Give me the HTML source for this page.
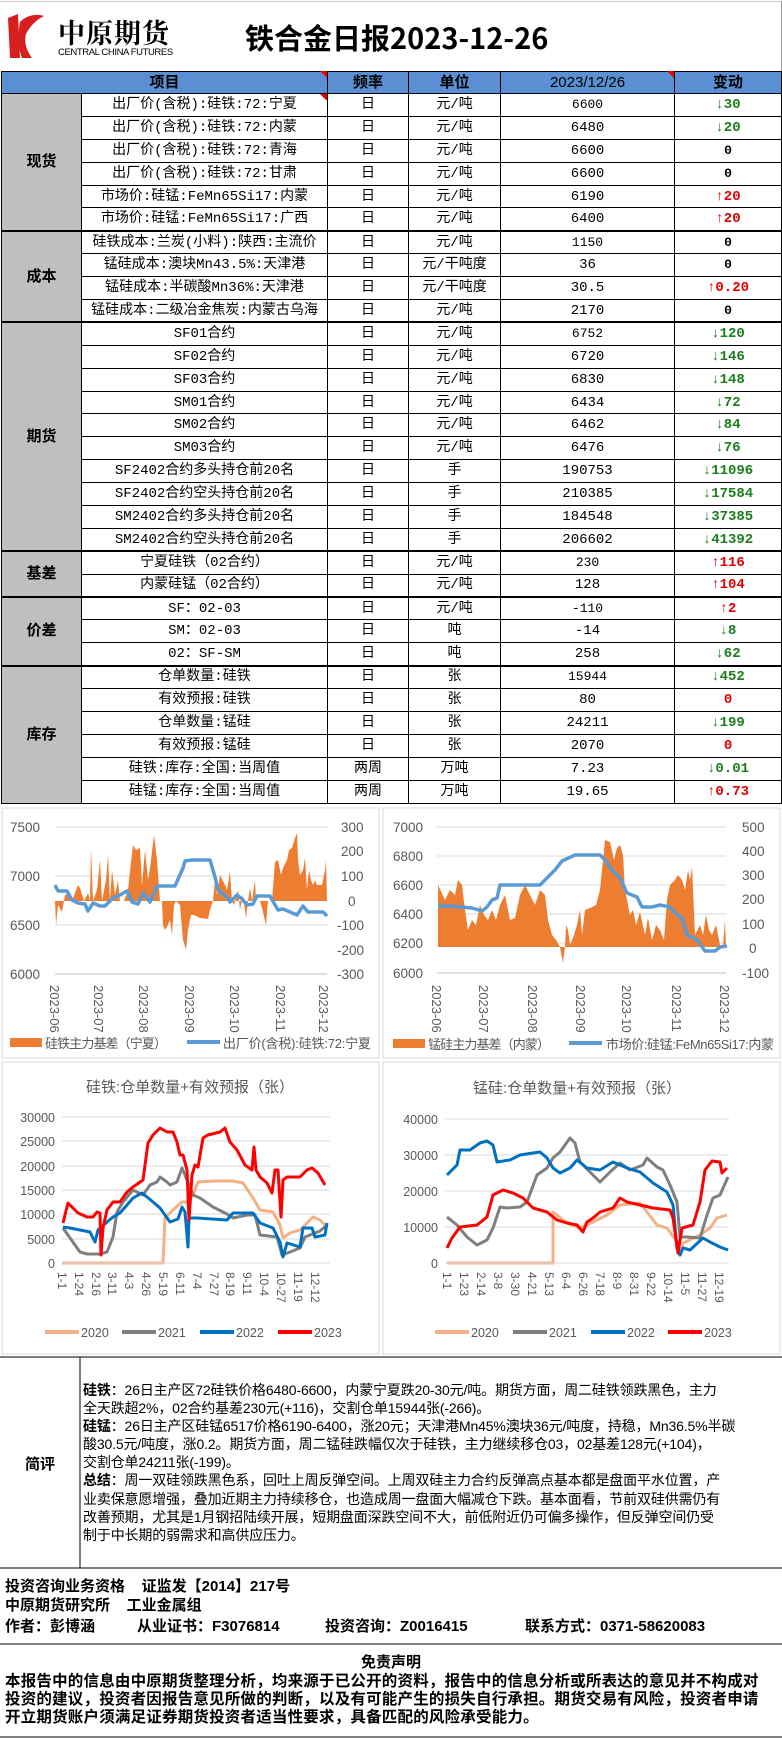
<!DOCTYPE html>
<html><head><meta charset="utf-8">
<style>
*{margin:0;padding:0;box-sizing:border-box}
body{width:782px;height:1738px;position:relative;background:#fff;font-family:"Liberation Sans","Noto Sans CJK SC",sans-serif;overflow:hidden;color:#000}
.abs{position:absolute}
table{border-collapse:collapse;table-layout:fixed;position:absolute;left:1px;top:71px;width:780px}
td{border:1px solid #000;text-align:center;font-size:14px;height:22.9px;padding:0;white-space:nowrap;overflow:hidden;line-height:20px;font-family:"Liberation Mono","Noto Sans CJK SC",monospace}
td:nth-child(5),td:nth-child(6){font-size:13px}
tr td.it{font-size:14px;letter-spacing:0}
tr.h td{background:#5a8fd3;height:22px;font-weight:bold;font-size:15px;font-family:"Liberation Sans","Noto Sans CJK SC",sans-serif}
td.cat{background:#bfbfbf;font-weight:bold;font-size:15px;font-family:"Liberation Sans","Noto Sans CJK SC",sans-serif}
.g{color:#1b7d1b;font-weight:bold;font-size:14px !important}
.r{color:#e00000;font-weight:bold;font-size:14px !important}
.z{font-weight:bold}
.sec td{border-top:2px solid #000}
.cm{font-size:14px;line-height:18.1px;white-space:nowrap;letter-spacing:-0.15px}
.b{font-weight:bold}
</style></head><body>
<div class="abs" style="left:0;top:1px;width:782px;height:70px;border-top:1px solid #ccc;border-right:1px solid #999"></div>
<svg class="abs" style="left:6px;top:12px" width="40" height="48" viewBox="0 0 40 48">
<path d="M2 6 L12 2 L14 46 L4 46 Z" fill="#d6201f"/>
<path d="M14 10 C22 2 32 2 38 4 C30 8 24 14 20 22 C18 30 20 38 26 46 L16 46 C12 36 12 20 14 10Z" fill="#d6201f"/>
</svg>
<div class="abs" style="left:58px;top:12px;font-size:27px;font-weight:bold;font-family:'Noto Serif CJK SC','Noto Sans CJK SC',serif;letter-spacing:1px">中原期货</div>
<div class="abs" style="left:58px;top:47px;font-size:9.5px;letter-spacing:-0.4px">CENTRAL CHINA FUTURES</div>
<div class="abs" style="left:245px;top:16px;font-size:29px;font-weight:bold;font-family:'Noto Sans CJK SC','Liberation Sans',sans-serif">铁合金日报2023-12-26</div>

<table>
<colgroup><col style="width:80px"><col style="width:246px"><col style="width:81px"><col style="width:92px"><col style="width:174px"><col style="width:107px"></colgroup>
<tr class="h"><td colspan="2">项目</td><td>频率</td><td>单位</td><td style="font-weight:normal">2023/12/26</td><td>变动</td></tr>
<tr><td class="cat" rowspan="6">现货</td><td class="it">出厂价(含税):硅铁:72:宁夏</td><td>日</td><td>元/吨</td><td>6600</td><td class="g">↓30</td></tr>
<tr><td class="it">出厂价(含税):硅铁:72:内蒙</td><td>日</td><td>元/吨</td><td>6480</td><td class="g">↓20</td></tr>
<tr><td class="it">出厂价(含税):硅铁:72:青海</td><td>日</td><td>元/吨</td><td>6600</td><td class="z">0</td></tr>
<tr><td class="it">出厂价(含税):硅铁:72:甘肃</td><td>日</td><td>元/吨</td><td>6600</td><td class="z">0</td></tr>
<tr><td class="it">市场价:硅锰:FeMn65Si17:内蒙</td><td>日</td><td>元/吨</td><td>6190</td><td class="r">↑20</td></tr>
<tr><td class="it">市场价:硅锰:FeMn65Si17:广西</td><td>日</td><td>元/吨</td><td>6400</td><td class="r">↑20</td></tr>
<tr class="sec"><td class="cat" rowspan="4">成本</td><td class="it">硅铁成本:兰炭(小料):陕西:主流价</td><td>日</td><td>元/吨</td><td>1150</td><td class="z">0</td></tr>
<tr><td class="it">锰硅成本:澳块Mn43.5%:天津港</td><td>日</td><td>元/干吨度</td><td>36</td><td class="z">0</td></tr>
<tr><td class="it">锰硅成本:半碳酸Mn36%:天津港</td><td>日</td><td>元/干吨度</td><td>30.5</td><td class="r">↑0.20</td></tr>
<tr><td class="it">锰硅成本:二级冶金焦炭:内蒙古乌海</td><td>日</td><td>元/吨</td><td>2170</td><td class="z">0</td></tr>
<tr class="sec"><td class="cat" rowspan="10">期货</td><td class="it">SF01合约</td><td>日</td><td>元/吨</td><td>6752</td><td class="g">↓120</td></tr>
<tr><td class="it">SF02合约</td><td>日</td><td>元/吨</td><td>6720</td><td class="g">↓146</td></tr>
<tr><td class="it">SF03合约</td><td>日</td><td>元/吨</td><td>6830</td><td class="g">↓148</td></tr>
<tr><td class="it">SM01合约</td><td>日</td><td>元/吨</td><td>6434</td><td class="g">↓72</td></tr>
<tr><td class="it">SM02合约</td><td>日</td><td>元/吨</td><td>6462</td><td class="g">↓84</td></tr>
<tr><td class="it">SM03合约</td><td>日</td><td>元/吨</td><td>6476</td><td class="g">↓76</td></tr>
<tr><td class="it">SF2402合约多头持仓前20名</td><td>日</td><td>手</td><td>190753</td><td class="g">↓11096</td></tr>
<tr><td class="it">SF2402合约空头持仓前20名</td><td>日</td><td>手</td><td>210385</td><td class="g">↓17584</td></tr>
<tr><td class="it">SM2402合约多头持仓前20名</td><td>日</td><td>手</td><td>184548</td><td class="g">↓37385</td></tr>
<tr><td class="it">SM2402合约空头持仓前20名</td><td>日</td><td>手</td><td>206602</td><td class="g">↓41392</td></tr>
<tr class="sec"><td class="cat" rowspan="2">基差</td><td class="it">宁夏硅铁（02合约）</td><td>日</td><td>元/吨</td><td>230</td><td class="r">↑116</td></tr>
<tr><td class="it">内蒙硅锰（02合约）</td><td>日</td><td>元/吨</td><td>128</td><td class="r">↑104</td></tr>
<tr class="sec"><td class="cat" rowspan="3">价差</td><td class="it">SF：02-03</td><td>日</td><td>元/吨</td><td>-110</td><td class="r">↑2</td></tr>
<tr><td class="it">SM：02-03</td><td>日</td><td>吨</td><td>-14</td><td class="g">↓8</td></tr>
<tr><td class="it">02：SF-SM</td><td>日</td><td>吨</td><td>258</td><td class="g">↓62</td></tr>
<tr class="sec"><td class="cat" rowspan="6">库存</td><td class="it">仓单数量:硅铁</td><td>日</td><td>张</td><td>15944</td><td class="g">↓452</td></tr>
<tr><td class="it">有效预报:硅铁</td><td>日</td><td>张</td><td>80</td><td class="r">0</td></tr>
<tr><td class="it">仓单数量:锰硅</td><td>日</td><td>张</td><td>24211</td><td class="g">↓199</td></tr>
<tr><td class="it">有效预报:锰硅</td><td>日</td><td>张</td><td>2070</td><td class="r">0</td></tr>
<tr><td class="it">硅铁:库存:全国:当周值</td><td>两周</td><td>万吨</td><td>7.23</td><td class="g">↓0.01</td></tr>
<tr><td class="it">硅锰:库存:全国:当周值</td><td>两周</td><td>万吨</td><td>19.65</td><td class="r">↑0.73</td></tr>
</table>
<svg class="abs" style="left:0;top:0" width="782" height="100"><polygon points="320,71 327,71 327,78" fill="#e00"/><polygon points="667,71 674,71 674,78" fill="#e00"/><polygon points="320,94 327,94 327,101" fill="#e00"/></svg>

<svg class="abs" style="left:0;top:0" width="782" height="1738" font-family="Liberation Sans, Noto Sans CJK SC, sans-serif">
<rect x="2" y="808" width="377" height="250" fill="none" stroke="#d9d9d9"/>
<rect x="383" y="808" width="397" height="250" fill="none" stroke="#d9d9d9"/>
<rect x="2" y="1062" width="377" height="292" fill="none" stroke="#d9d9d9"/>
<rect x="383" y="1062" width="397" height="292" fill="none" stroke="#d9d9d9"/>

<g stroke="#d9d9d9" stroke-width="1">
<line x1="55" y1="827" x2="327" y2="827"/><line x1="55" y1="876" x2="327" y2="876"/><line x1="55" y1="925" x2="327" y2="925"/><line x1="55" y1="974" x2="327" y2="974"/>
</g>
<g fill="#595959" font-size="13.5">
<text x="10" y="832">7500</text><text x="10" y="881">7000</text><text x="10" y="930">6500</text><text x="10" y="979">6000</text>
<text x="341" y="832">300</text><text x="341" y="856">200</text><text x="341" y="881">100</text><text x="348" y="906">0</text><text x="337" y="930">-100</text><text x="337" y="955">-200</text><text x="337" y="979">-300</text>
</g>
<polygon fill="#ed7d31" points="55,901 56,925 58,905 62,912 65,895 70,893 72,901 78,885 80,888 84,901 88,893 90,901 91,848 93,901 97,890 100,860 102,901 106,880 108,855 110,900 112,870 115,895 118,880 120,901 124,901 128,890 131,862 133,845 136,850 140,848 142,885 145,850 148,880 150,868 154,835 157,860 160,901 162,901 163,925 165,930 168,925 170,920 172,935 174,905 176,901 180,905 183,940 186,950 188,930 191,915 194,915 200,918 208,919 210,910 213,901 215,880 217,895 220,875 225,885 227,890 230,872 232,901 234,905 238,890 240,910 243,895 246,918 248,901 250,888 252,901 255,880 256,901 260,901 263,912 266,925 268,901 272,901 275,862 278,860 281,875 283,868 287,860 289,850 292,848 295,838 297,833 298,860 300,875 303,870 305,858 307,890 309,870 311,880 313,885 315,880 317,885 322,885 325,870 326,860 327,901"/>
<polyline fill="none" stroke="#5b9bd5" stroke-width="3.5" stroke-linejoin="round" points="55,885 58,891 67,891 72,900 78,903 85,904 88,911 93,903 100,906 105,906 113,898 120,895 127,891 132,902 138,904 143,893 150,902 157,886 175,886 183,868 185,861 192,860 210,860 215,877 218,890 227,897 230,902 237,895 242,899 247,905 253,904 257,896 270,896 278,910 283,909 290,912 297,915 303,906 308,912 323,912 327,916"/>
<line x1="55" y1="974" x2="327" y2="974" stroke="#bfbfbf"/>
<g fill="#595959" font-size="13">
<text transform="translate(50,985) rotate(90)">2023-06</text><text transform="translate(94,985) rotate(90)">2023-07</text><text transform="translate(139,985) rotate(90)">2023-08</text><text transform="translate(185,985) rotate(90)">2023-09</text><text transform="translate(230,985) rotate(90)">2023-10</text><text transform="translate(276,985) rotate(90)">2023-11</text><text transform="translate(319,985) rotate(90)">2023-12</text>
</g>
<rect x="10" y="1038" width="32" height="9" fill="#ed7d31"/>
<text x="45" y="1048" font-size="13" fill="#595959" textLength="122">硅铁主力基差（宁夏）</text>
<line x1="187" y1="1042" x2="220" y2="1042" stroke="#5b9bd5" stroke-width="4"/>
<text x="223" y="1048" font-size="13" fill="#595959" textLength="148">出厂价(含税):硅铁:72:宁夏</text>

<g stroke="#d9d9d9">
<line x1="437" y1="827" x2="726" y2="827"/><line x1="437" y1="856" x2="726" y2="856"/><line x1="437" y1="885" x2="726" y2="885"/><line x1="437" y1="914" x2="726" y2="914"/><line x1="437" y1="943" x2="726" y2="943"/>
</g>
<g fill="#595959" font-size="13.5">
<text x="393" y="832">7000</text><text x="393" y="861">6800</text><text x="393" y="890">6600</text><text x="393" y="919">6400</text><text x="393" y="948">6200</text><text x="393" y="978">6000</text>
<text x="742" y="832">500</text><text x="742" y="856">400</text><text x="742" y="880">300</text><text x="742" y="904">200</text><text x="742" y="929">100</text><text x="749" y="953">0</text><text x="742" y="978">-100</text>
</g>
<polygon fill="#ed7d31" points="438,947 438,885 445,900 450,890 455,895 458,880 462,885 465,910 468,930 472,920 476,925 480,905 484,915 488,920 492,910 496,920 500,905 505,895 510,920 515,918 520,895 525,885 530,895 535,905 540,890 545,895 548,920 552,935 556,940 560,947 563,963 565,947 566,925 568,930 570,945 574,935 577,925 580,910 582,935 585,910 590,908 596,905 600,890 603,860 605,840 610,842 614,860 617,848 620,845 623,855 625,890 630,915 633,910 636,925 640,912 645,935 648,918 652,940 656,925 660,930 664,940 667,900 670,885 675,880 678,875 682,880 685,890 688,870 690,880 692,867 695,935 700,925 703,935 706,915 709,930 712,935 716,925 720,945 723,947 725,920 726,947"/>
<polyline fill="none" stroke="#5b9bd5" stroke-width="3.5" stroke-linejoin="round" points="438,906 450,906 472,908 482,911 487,907 492,900 497,898 500,885 540,885 545,880 550,875 555,870 562,861 575,855 600,855 605,860 612,870 620,878 627,893 637,897 642,907 652,907 660,905 670,907 675,913 682,918 687,935 697,940 705,951 715,951 720,947 727,946"/>
<line x1="437" y1="973" x2="726" y2="973" stroke="#bfbfbf"/>
<g fill="#595959" font-size="13">
<text transform="translate(432,985) rotate(90)">2023-06</text><text transform="translate(479,985) rotate(90)">2023-07</text><text transform="translate(528,985) rotate(90)">2023-08</text><text transform="translate(576,985) rotate(90)">2023-09</text><text transform="translate(622,985) rotate(90)">2023-10</text><text transform="translate(672,985) rotate(90)">2023-11</text><text transform="translate(720,985) rotate(90)">2023-12</text>
</g>
<rect x="393" y="1039" width="32" height="9" fill="#ed7d31"/>
<text x="428" y="1049" font-size="13" fill="#595959" textLength="122">锰硅主力基差（内蒙）</text>
<line x1="569" y1="1043" x2="602" y2="1043" stroke="#5b9bd5" stroke-width="4"/>
<text x="606" y="1049" font-size="13" fill="#595959" textLength="168">市场价:硅锰:FeMn65Si17:内蒙</text>

<text x="190" y="1092" font-size="15" fill="#595959" text-anchor="middle">硅铁:仓单数量+有效预报（张）</text>
<g stroke="#d9d9d9">
<line x1="62" y1="1117" x2="330" y2="1117"/><line x1="62" y1="1141" x2="330" y2="1141"/><line x1="62" y1="1166" x2="330" y2="1166"/><line x1="62" y1="1190" x2="330" y2="1190"/><line x1="62" y1="1214" x2="330" y2="1214"/><line x1="62" y1="1239" x2="330" y2="1239"/>
</g>
<g fill="#595959" font-size="12.5" text-anchor="end">
<text x="55" y="1122">30000</text><text x="55" y="1146">25000</text><text x="55" y="1171">20000</text><text x="55" y="1195">15000</text><text x="55" y="1219">10000</text><text x="55" y="1244">5000</text><text x="55" y="1268">0</text>
</g>
<g fill="none" stroke-width="3" stroke-linejoin="round">
<polyline stroke="#f4b183" points="62,1263 163,1263 165,1218 173,1210 182,1202 187,1202 193,1195 198,1182 213,1181 233,1181 243,1183 253,1198 260,1210 273,1212 280,1225 283,1238 290,1233 300,1230 313,1217 320,1220 325,1225"/>
<polyline stroke="#7f7f7f" points="63,1228 70,1238 80,1252 87,1254 100,1254 107,1252 113,1237 117,1212 123,1202 133,1190 143,1195 150,1185 157,1182 160,1177 167,1182 170,1185 177,1182 182,1168 185,1175 190,1188 193,1195 200,1198 213,1207 227,1214 233,1218 247,1215 255,1215 260,1235 277,1237 282,1255 290,1252 300,1248 305,1237 320,1231 327,1225"/>
<polyline stroke="#0070c0" points="63,1227 70,1228 90,1232 95,1242 98,1230 107,1222 113,1217 120,1213 127,1205 133,1198 142,1193 147,1197 153,1202 160,1208 170,1222 178,1219 182,1207 185,1212 188,1247 189,1218 197,1218 227,1220 233,1213 253,1213 260,1223 273,1228 280,1242 283,1257 287,1243 300,1247 303,1228 312,1228 315,1237 325,1235 327,1223"/>
<polyline stroke="#ff0000" points="63,1223 68,1203 73,1208 78,1213 87,1217 93,1217 97,1212 100,1213 101,1255 103,1228 107,1210 113,1202 120,1202 127,1192 133,1187 143,1180 148,1143 153,1135 160,1128 167,1132 173,1132 177,1142 180,1155 183,1155 187,1170 189,1220 192,1175 195,1165 198,1167 203,1138 208,1135 220,1132 225,1128 230,1142 237,1150 245,1165 252,1170 254,1147 256,1170 260,1177 267,1183 272,1193 275,1170 278,1170 281,1217 283,1180 287,1177 300,1177 307,1170 312,1168 318,1173 325,1185"/>
</g>
<line x1="62" y1="1263" x2="330" y2="1263" stroke="#d9d9d9"/>
<g fill="#595959" font-size="12">
<text transform="translate(58,1272) rotate(90)">1-1</text><text transform="translate(75,1272) rotate(90)">1-24</text><text transform="translate(92,1272) rotate(90)">2-16</text><text transform="translate(108,1272) rotate(90)">3-11</text><text transform="translate(125,1272) rotate(90)">4-3</text><text transform="translate(142,1272) rotate(90)">4-26</text><text transform="translate(159,1272) rotate(90)">5-19</text><text transform="translate(176,1272) rotate(90)">6-11</text><text transform="translate(193,1272) rotate(90)">7-4</text><text transform="translate(210,1272) rotate(90)">7-27</text><text transform="translate(226,1272) rotate(90)">8-19</text><text transform="translate(243,1272) rotate(90)">9-11</text><text transform="translate(260,1272) rotate(90)">10-4</text><text transform="translate(277,1272) rotate(90)">10-27</text><text transform="translate(294,1272) rotate(90)">11-19</text><text transform="translate(311,1272) rotate(90)">12-12</text>
</g>
<g stroke-width="4">
<line x1="45" y1="1332" x2="79" y2="1332" stroke="#f4b183"/><line x1="122" y1="1332" x2="156" y2="1332" stroke="#7f7f7f"/><line x1="200" y1="1332" x2="234" y2="1332" stroke="#0070c0"/><line x1="278" y1="1332" x2="312" y2="1332" stroke="#ff0000"/>
</g>
<g fill="#595959" font-size="12.5"><text x="81" y="1337">2020</text><text x="158" y="1337">2021</text><text x="236" y="1337">2022</text><text x="314" y="1337">2023</text></g>

<text x="577" y="1093" font-size="15" fill="#595959" text-anchor="middle">锰硅:仓单数量+有效预报（张）</text>
<g stroke="#d9d9d9">
<line x1="445" y1="1119" x2="729" y2="1119"/><line x1="445" y1="1155" x2="729" y2="1155"/><line x1="445" y1="1191" x2="729" y2="1191"/><line x1="445" y1="1227" x2="729" y2="1227"/>
</g>
<g fill="#595959" font-size="12.5" text-anchor="end">
<text x="438" y="1124">40000</text><text x="438" y="1160">30000</text><text x="438" y="1196">20000</text><text x="438" y="1232">10000</text><text x="438" y="1268">0</text>
</g>
<g fill="none" stroke-width="3" stroke-linejoin="round">
<polyline stroke="#f4b183" points="447,1263 553,1263 553,1212 567,1223 580,1228 593,1222 607,1215 620,1205 640,1203 647,1212 657,1225 667,1228 677,1242 680,1255 683,1243 700,1235 710,1228 717,1218 727,1215"/>
<polyline stroke="#7f7f7f" points="447,1217 457,1225 467,1237 477,1245 487,1240 493,1228 500,1207 507,1208 520,1207 527,1202 537,1175 547,1168 553,1158 560,1152 570,1138 575,1143 580,1162 590,1172 600,1182 610,1172 620,1163 630,1170 643,1165 647,1158 657,1167 663,1170 670,1185 677,1202 680,1237 687,1237 700,1238 707,1215 713,1198 720,1195 728,1177"/>
<polyline stroke="#0070c0" points="447,1175 457,1165 460,1150 470,1150 480,1143 487,1141 493,1145 497,1162 510,1160 520,1155 533,1153 540,1152 547,1158 553,1168 560,1173 570,1168 577,1160 587,1168 600,1170 613,1162 627,1168 640,1172 653,1183 667,1192 673,1205 677,1248 680,1255 683,1248 690,1250 703,1238 710,1242 720,1247 728,1250"/>
<polyline stroke="#ff0000" points="447,1248 452,1238 460,1227 477,1225 487,1217 493,1195 503,1190 513,1193 523,1198 533,1208 547,1212 557,1220 567,1223 577,1225 583,1232 587,1222 593,1218 600,1212 613,1208 620,1198 627,1202 640,1205 653,1208 670,1210 673,1218 678,1253 682,1228 693,1225 700,1202 705,1170 712,1161 720,1162 722,1173 727,1168"/>
</g>
<line x1="445" y1="1263" x2="729" y2="1263" stroke="#d9d9d9"/>
<g fill="#595959" font-size="12">
<text transform="translate(443,1272) rotate(90)">1-1</text><text transform="translate(460,1272) rotate(90)">1-23</text><text transform="translate(477,1272) rotate(90)">2-14</text><text transform="translate(494,1272) rotate(90)">3-8</text><text transform="translate(511,1272) rotate(90)">3-30</text><text transform="translate(528,1272) rotate(90)">4-21</text><text transform="translate(545,1272) rotate(90)">5-13</text><text transform="translate(562,1272) rotate(90)">6-4</text><text transform="translate(579,1272) rotate(90)">6-26</text><text transform="translate(596,1272) rotate(90)">7-18</text><text transform="translate(613,1272) rotate(90)">8-9</text><text transform="translate(630,1272) rotate(90)">8-31</text><text transform="translate(647,1272) rotate(90)">9-22</text><text transform="translate(664,1272) rotate(90)">10-14</text><text transform="translate(681,1272) rotate(90)">11-5</text><text transform="translate(698,1272) rotate(90)">11-27</text><text transform="translate(715,1272) rotate(90)">12-19</text>
</g>
<g stroke-width="4">
<line x1="435" y1="1332" x2="469" y2="1332" stroke="#f4b183"/><line x1="513" y1="1332" x2="547" y2="1332" stroke="#7f7f7f"/><line x1="591" y1="1332" x2="625" y2="1332" stroke="#0070c0"/><line x1="668" y1="1332" x2="702" y2="1332" stroke="#ff0000"/>
</g>
<g fill="#595959" font-size="12.5"><text x="471" y="1337">2020</text><text x="549" y="1337">2021</text><text x="627" y="1337">2022</text><text x="704" y="1337">2023</text></g>

<line x1="0" y1="1357" x2="782" y2="1357" stroke="#000"/>
<line x1="80" y1="1357" x2="80" y2="1568" stroke="#000"/>
<line x1="0" y1="1568" x2="782" y2="1568" stroke="#000"/>
<line x1="0" y1="1644" x2="782" y2="1644" stroke="#000"/>
<line x1="0" y1="1737" x2="782" y2="1737" stroke="#000"/>
</svg>

<div class="abs b" style="left:0;top:1453px;width:80px;text-align:center;font-size:15px">简评</div>
<div class="abs cm" style="left:83px;top:1381px">
<div><span class="b">硅铁</span>：26日主产区72硅铁价格6480-6600，内蒙宁夏跌20-30元/吨。期货方面，周二硅铁领跌黑色，主力</div>
<div>全天跌超2%，02合约基差230元(+116)，交割仓单15944张(-266)。</div>
<div><span class="b">硅锰</span>：26日主产区硅锰6517价格6190-6400，涨20元；天津港Mn45%澳块36元/吨度，持稳，Mn36.5%半碳</div>
<div>酸30.5元/吨度，涨0.2。期货方面，周二锰硅跌幅仅次于硅铁，主力继续移仓03，02基差128元(+104)，</div>
<div>交割仓单24211张(-199)。</div>
<div><span class="b">总结</span>：周一双硅领跌黑色系，回吐上周反弹空间。上周双硅主力合约反弹高点基本都是盘面平水位置，产</div>
<div>业卖保意愿增强，叠加近期主力持续移仓，也造成周一盘面大幅减仓下跌。基本面看，节前双硅供需仍有</div>
<div>改善预期，尤其是1月钢招陆续开展，短期盘面深跌空间不大，前低附近仍可偏多操作，但反弹空间仍受</div>
<div>制于中长期的弱需求和高供应压力。</div>
</div>

<div class="abs b" style="left:5px;top:1578px;font-size:15px;line-height:18.5px;white-space:nowrap">
<div>投资咨询业务资格&nbsp;&nbsp;&nbsp;&nbsp;证监发【2014】217号</div>
<div>中原期货研究所&nbsp;&nbsp;&nbsp;&nbsp;工业金属组</div>
</div>
<div class="abs b" style="left:5px;top:1615px;font-size:15px;white-space:nowrap">作者：彭博涵</div>
<div class="abs b" style="left:137px;top:1615px;font-size:15px;white-space:nowrap">从业证书：F3076814</div>
<div class="abs b" style="left:325px;top:1615px;font-size:15px;white-space:nowrap">投资咨询：Z0016415</div>
<div class="abs b" style="left:525px;top:1615px;font-size:15px;white-space:nowrap">联系方式：0371-58620083</div>

<div class="abs b" style="left:0;top:1654px;width:782px;text-align:center;font-size:15px;line-height:18px">免责声明</div>
<div class="abs b" style="left:5px;top:1673px;font-size:15.5px;line-height:18px;white-space:nowrap;letter-spacing:0.2px">
<div>本报告中的信息由中原期货整理分析，均来源于已公开的资料，报告中的信息分析或所表达的意见并不构成对</div>
<div>投资的建议，投资者因报告意见所做的判断，以及有可能产生的损失自行承担。期货交易有风险，投资者申请</div>
<div>开立期货账户须满足证券期货投资者适当性要求，具备匹配的风险承受能力。</div>
</div>
</body></html>
